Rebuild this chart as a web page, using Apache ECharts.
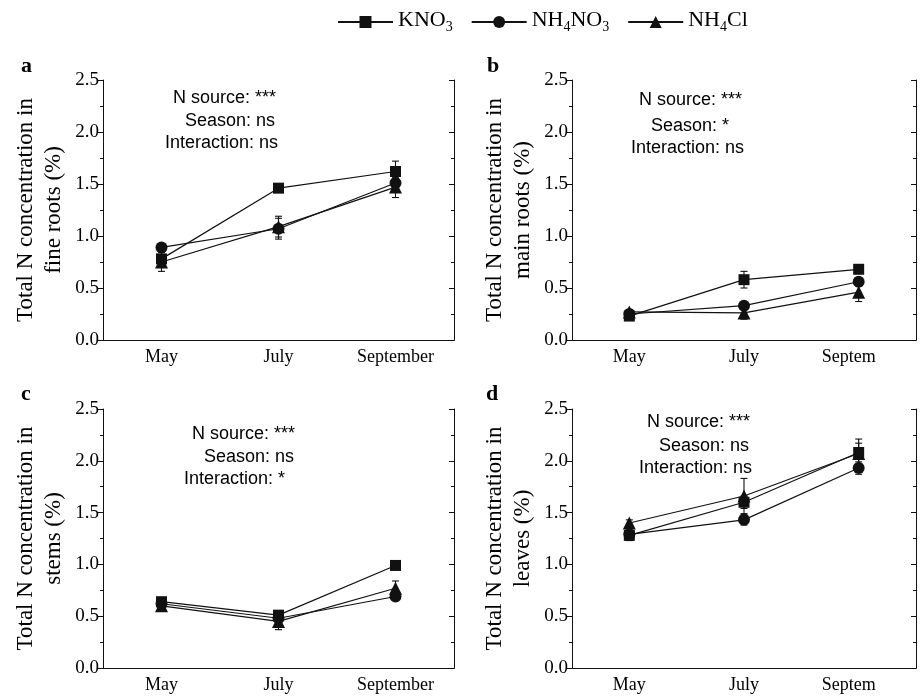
<!DOCTYPE html>
<html>
<head>
<meta charset="utf-8">
<script src="https://cdn.jsdelivr.net/npm/echarts@6/dist/echarts.min.js"></script>
<style>
html, body { margin: 0; padding: 0; background: #fff; }
#main { width: 921px; height: 697px; }
</style>
</head>
<body>
<div id="main"></div>
<script>
// 月份
var categories = ['May', 'July', 'September'];
var tickLabelsRight = ['May', 'July', 'Septem'];
var seriesNames = ['KNO3', 'NH4NO3', 'NH4Cl'];

// a: fine roots
var fineKNO3 = [0.78, 1.46, 1.62];
var fineKNO3Err = [0.04, 0.03, 0.10];
var fineNH4NO3 = [0.89, 1.07, 1.51];
var fineNH4NO3Err = [0.03, 0.10, 0.05];
var fineNH4Cl = [0.75, 1.09, 1.47];
var fineNH4ClErr = [0.09, 0.10, 0.10];

// b: main roots
var mainKNO3 = [0.23, 0.58, 0.68];
var mainKNO3Err = [0.02, 0.08, 0.03];
var mainNH4NO3 = [0.25, 0.33, 0.56];
var mainNH4NO3Err = [0.02, 0.03, 0.04];
var mainNH4Cl = [0.27, 0.26, 0.46];
var mainNH4ClErr = [0.02, 0.06, 0.09];

// c: stems
var stemKNO3 = [0.64, 0.51, 0.99];
var stemKNO3Err = [0.03, 0.03, 0.04];
var stemNH4NO3 = [0.62, 0.48, 0.69];
var stemNH4NO3Err = [0.02, 0.03, 0.03];
var stemNH4Cl = [0.60, 0.45, 0.77];
var stemNH4ClErr = [0.05, 0.08, 0.07];

// d: leaves
var leafKNO3 = [1.28, 1.60, 2.08];
var leafKNO3Err = [0.04, 0.06, 0.13];
var leafNH4NO3 = [1.29, 1.43, 1.93];
var leafNH4NO3Err = [0.06, 0.05, 0.06];
var leafNH4Cl = [1.40, 1.66, 2.07];
var leafNH4ClErr = [0.03, 0.17, 0.10];

var panels = [
    {letter: 'a', name: 'Total N concentration in\nfine roots (%)', labels: categories,
     values: [fineKNO3, fineNH4NO3, fineNH4Cl], errs: [fineKNO3Err, fineNH4NO3Err, fineNH4ClErr],
     stats: ['N source: ***', 'Season: ns', 'Interaction: ns']},
    {letter: 'b', name: 'Total N concentration in\nmain roots (%)', labels: tickLabelsRight,
     values: [mainKNO3, mainNH4NO3, mainNH4Cl], errs: [mainKNO3Err, mainNH4NO3Err, mainNH4ClErr],
     stats: ['N source: ***', 'Season: *', 'Interaction: ns']},
    {letter: 'c', name: 'Total N concentration in\nstems (%)', labels: categories,
     values: [stemKNO3, stemNH4NO3, stemNH4Cl], errs: [stemKNO3Err, stemNH4NO3Err, stemNH4ClErr],
     stats: ['N source: ***', 'Season: ns', 'Interaction: *']},
    {letter: 'd', name: 'Total N concentration in\nleaves (%)', labels: tickLabelsRight,
     values: [leafKNO3, leafNH4NO3, leafNH4Cl], errs: [leafKNO3Err, leafNH4NO3Err, leafNH4ClErr],
     stats: ['N source: ***', 'Season: ns', 'Interaction: ns']}
];

// 布局
var grids = [
    {left: 103, top: 80, width: 351, height: 260},
    {left: 572, top: 80, width: 344, height: 260},
    {left: 103, top: 409, width: 351, height: 259},
    {left: 572, top: 409, width: 344, height: 259}
];
var letterPos = [[27, 67], [493, 67], [27, 395], [492, 395]];
var statPos = [
    [[173, 98], [185, 121], [165, 143]],
    [[639, 100], [651, 126], [631, 148]],
    [[192, 434], [204, 457], [184, 479]],
    [[647, 422], [659, 446], [639, 468]]
];

var serif = '"Liberation Serif", "Times New Roman", serif';
var sans = '"Liberation Sans", Arial, sans-serif';
var ink = '#111';
var symbols = ['rect', 'circle', 'triangle'];
var symbolSizes = [11, 12, 13];

function renderErr(params, api) {
    var x = api.value(0);
    var top = api.coord([x, api.value(2)]);
    var bot = api.coord([x, api.value(1)]);
    var w = 3.5;
    var st = {stroke: ink, lineWidth: 1.1};
    return {
        type: 'group',
        children: [
            {type: 'line', shape: {x1: top[0], y1: top[1], x2: bot[0], y2: bot[1]}, style: st},
            {type: 'line', shape: {x1: top[0] - w, y1: top[1], x2: top[0] + w, y2: top[1]}, style: st},
            {type: 'line', shape: {x1: bot[0] - w, y1: bot[1], x2: bot[0] + w, y2: bot[1]}, style: st}
        ]
    };
}

var xAxes = [], yAxes = [], series = [], graphics = [];

panels.forEach(function (p, i) {
    // 下方 x 轴
    xAxes.push({
        type: 'category', gridIndex: i, data: p.labels, boundaryGap: true, position: 'bottom',
        axisLine: {lineStyle: {color: ink, width: 1}},
        axisTick: {alignWithLabel: true, length: 5, lineStyle: {color: ink}},
        axisLabel: {color: '#000', fontFamily: serif, fontSize: 18, margin: 8,
            formatter: function (v) { return v === 'Septem' ? '{c|Septem}' : v; },
            rich: {c: {fontFamily: serif, fontSize: 18, color: '#000', padding: [0, 20, 0, 0]}}},
        splitLine: {show: false}
    });
    // 上方边框
    xAxes.push({
        type: 'category', gridIndex: i, data: p.labels, boundaryGap: true, position: 'top',
        axisLine: {lineStyle: {color: ink, width: 1}},
        axisTick: {alignWithLabel: true, inside: true, length: 4, lineStyle: {color: ink}},
        axisLabel: {show: false}, splitLine: {show: false}
    });
    yAxes.push({
        type: 'value', gridIndex: i, min: 0, max: 2.5, interval: 0.5, position: 'left',
        name: p.name, nameLocation: 'middle', nameGap: 35, nameRotate: 90,
        nameTextStyle: {fontFamily: serif, fontSize: 23, color: '#000', lineHeight: 28},
        axisLine: {show: true, lineStyle: {color: ink, width: 1}},
        axisTick: {show: true, length: 5, lineStyle: {color: ink}},
        minorTick: {show: true, splitNumber: 2, length: 3, lineStyle: {color: ink}},
        axisLabel: {color: '#000', fontFamily: serif, fontSize: 19, margin: 4,
            formatter: function (v) { return v.toFixed(1); }},
        splitLine: {show: false}
    });
    yAxes.push({
        type: 'value', gridIndex: i, min: 0, max: 2.5, interval: 0.5, position: 'right',
        axisLine: {show: true, lineStyle: {color: ink, width: 1}},
        axisTick: {show: true, inside: true, length: 5, lineStyle: {color: ink}},
        minorTick: {show: true, splitNumber: 2, length: 3, lineStyle: {color: ink}},
        axisLabel: {show: false}, splitLine: {show: false}
    });

    for (var s = 0; s < 3; s++) {
        var errData = p.values[s].map(function (v, k) {
            return [k, v - p.errs[s][k], v + p.errs[s][k]];
        });
        series.push({
            type: 'custom', xAxisIndex: i * 2, yAxisIndex: i * 2,
            renderItem: renderErr, encode: {x: 0, y: [1, 2]},
            data: errData, z: 2, silent: true
        });
        series.push({
            name: seriesNames[s], type: 'line', xAxisIndex: i * 2, yAxisIndex: i * 2,
            data: p.values[s], symbol: symbols[s], symbolSize: symbolSizes[s],
            showAllSymbol: true,
            lineStyle: {color: ink, width: 1.2},
            itemStyle: {color: ink, borderWidth: 0},
            z: 3
        });
    }

    graphics.push({
        type: 'text', left: letterPos[i][0] - 6, top: letterPos[i][1] - 12,
        style: {text: p.letter, font: 'bold 22px ' + serif, fill: '#000'}
    });
    for (var t = 0; t < 3; t++) {
        graphics.push({
            type: 'text', x: statPos[i][t][0], y: statPos[i][t][1],
            style: {text: p.stats[t], font: '18px ' + sans, fill: '#000',
                textAlign: 'left', textVerticalAlign: 'middle'}
        });
    }
});

var legendText = {
    KNO3: '{n|KNO}{s|3}',
    NH4NO3: '{n|NH}{s|4}{n|NO}{s|3}',
    NH4Cl: '{n|NH}{s|4}{n|Cl}'
};

var chart = echarts.init(document.getElementById('main'));
var option = {
    backgroundColor: '#fff',
    animation: false,
    legend: {
        data: seriesNames, left: 332, top: 4, itemWidth: 55, itemHeight: 15, itemGap: 18,
        formatter: function (name) { return legendText[name]; },
        textStyle: {
            rich: {
                n: {fontFamily: serif, fontSize: 22, color: '#000', lineHeight: 24, verticalAlign: 'bottom', padding: [0, 0, 3, 0]},
                s: {fontFamily: serif, fontSize: 14, color: '#000', lineHeight: 14, verticalAlign: 'bottom'}
            }
        }
    },
    grid: grids,
    xAxis: xAxes,
    yAxis: yAxes,
    series: series,
    graphic: graphics
};
chart.setOption(option);
</script>
</body>
</html>
